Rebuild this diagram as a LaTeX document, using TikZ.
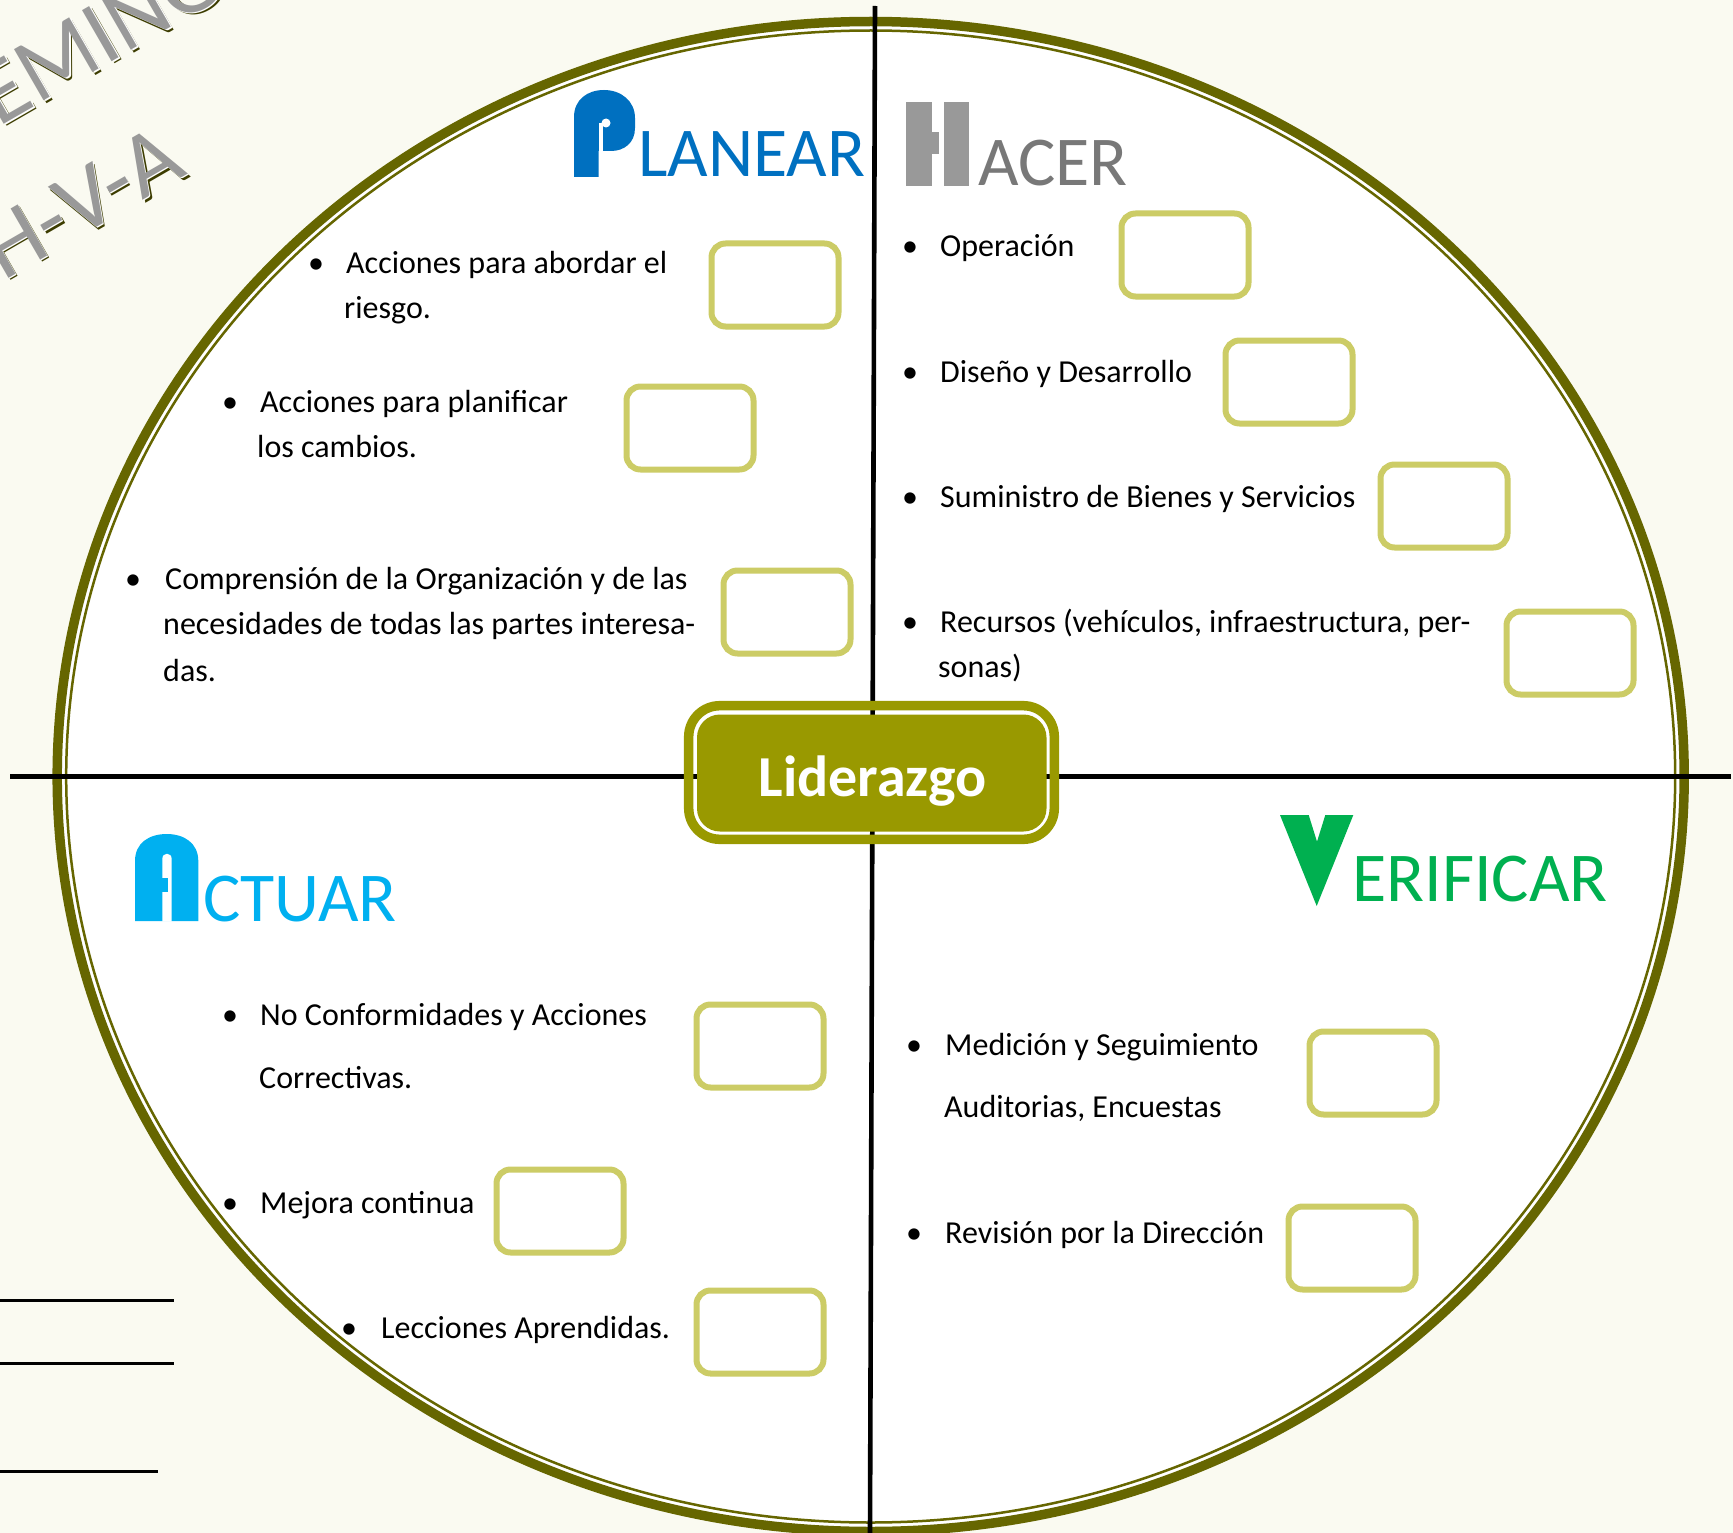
\documentclass[tikz,border=0pt]{standalone}
\usepackage{fontspec}
\setmainfont{Carlito}
\definecolor{bgc}{RGB}{250,250,241}
\definecolor{ringc}{RGB}{102,102,0}
\definecolor{lidc}{RGB}{153,153,0}
\definecolor{chkc}{RGB}{204,204,102}
\definecolor{planc}{RGB}{0,112,192}
\definecolor{hgrey}{RGB}{153,153,153}
\definecolor{acerc}{RGB}{120,120,120}
\definecolor{actc}{RGB}{0,176,240}
\definecolor{verc}{RGB}{0,176,80}
\definecolor{shadc}{RGB}{60,60,0}
\begin{document}
\begin{tikzpicture}[x=1pt,y=-1pt,
  txt/.style={anchor=base west, inner sep=0pt, font=\fontsize{32}{38}\selectfont},
  bul/.style={anchor=base, inner sep=0pt, font=\fontsize{32}{38}\selectfont},
  ttl/.style={anchor=base west, inner sep=0pt, font=\fontsize{70}{80}\selectfont},
  chk/.style={draw=chkc, line width=6pt, rounded corners=14pt, minimum width=127pt, minimum height=83pt, inner sep=0pt},
  wa/.style={inner sep=0pt, rotate=30, font=\fontsize{92}{100}\selectfont},
  axis/.style={draw=black, line width=4.6pt}]
\useasboundingbox (0,0) rectangle (1733,1533);
\fill[bgc] (0,0) rectangle (1733,1533);
% rotated word art
\node[wa, anchor=base west, text=shadc] (wa1s) at (-47.5,158) {DEMING};
\node[wa, anchor=base west, text=white] (wa1w) at (-49,156.5) {DEMING};
\node[wa, anchor=base west, text=hgrey] (wa1) at (-50.3,155.5) {DEMING};
\node[wa, anchor=base east, text=shadc] (wa2s) at (191.5,176.5) {P-H-V-A};
\node[wa, anchor=base east, text=white] (wa2w) at (190,175) {P-H-V-A};
\node[wa, anchor=base east, text=hgrey] (wa2) at (189,174) {P-H-V-A};
% big ellipse
\fill[white] (870.7,776.5) ellipse [x radius=813.5pt, y radius=755pt];
\draw[ringc, line width=9.5pt] (870.7,776.5) ellipse [x radius=813.5pt, y radius=755pt];
\draw[ringc, line width=2.5pt] (870.7,776.5) ellipse [x radius=804.5pt, y radius=746pt];
% axes
\coordinate (vt) at (875,6);
\coordinate (vb) at (870,1533);
\coordinate (hl) at (10,776.5);
\coordinate (hr) at (1731,776.5);
\draw[axis] (vt) -- (vb);
\draw[axis, line width=5pt] (hl) -- (hr);
% bottom-left lines
\draw[line width=3pt] (0,1300) -- (174,1300);
\draw[line width=3pt] (0,1363) -- (174,1363);
\draw[line width=3pt] (0,1471) -- (158,1471);
% Liderazgo box
\draw[lidc, line width=9.5pt, rounded corners=31pt] (688.7,705.7) rectangle (1054.3,839.3);
\fill[lidc, rounded corners=23pt] (697,714.5) rectangle (1046.5,831.5);
\node[anchor=base, inner sep=0pt, text=white, font=\bfseries\fontsize{58}{60}\selectfont] (lid) at (872.5,796) {Liderazgo};
% PLANEAR
\fill[planc] (574,177) -- (574,117) .. controls (574,100) and (587,90) .. (604,90) .. controls (621,90) and (635,101) .. (635,118) -- (635,128) .. controls (635,143) and (624,151) .. (611,151) -- (598.5,151) -- (598.5,177) -- cycle;
\fill[white] (606,123) circle [radius=4.5pt];
\fill[white] (598.5,123) rectangle (602.5,151.5);
\node[ttl, text=planc] (plan) at (638,177) {LANEAR};
% HACER
\fill[hgrey] (906,102) rectangle (931.5,186);
\fill[hgrey] (931.5,132) rectangle (939,154);
\fill[hgrey] (944,102) rectangle (969,186);
\node[ttl, text=acerc] (hac) at (978,186) {ACER};
% ACTUAR
\fill[actc] (135,921) -- (135,861) .. controls (135,843) and (149,834) .. (166.7,834) .. controls (184,834) and (198.3,843) .. (198.3,861) -- (198.3,921) -- cycle;
\fill[white] (162.3,921.5) -- (162.3,859) .. controls (162.3,852) and (171.7,852) .. (171.7,859) -- (171.7,921.5) -- cycle;
\fill[actc] (162,878) rectangle (167.7,892);
\node[ttl, text=actc] (act) at (203,921) {CTUAR};
% VERIFICAR
\fill[verc] (1280,815) -- (1308.7,815) -- (1317,841.7) -- (1325.3,815) -- (1353.3,815) -- (1316.7,906) -- cycle;
\node[ttl, text=verc] (ver) at (1352,901) {ERIFICAR};
% PLANEAR items
\node[bul] (pb1) at (316,274) {•};
\node[txt] (p1a) at (346,274) {Acciones para abordar el};
\node[txt] (p1b) at (344,319) {riesgo.};
\node[bul] (pb2) at (230,412) {•};
\node[txt] (p2a) at (260,412) {Acciones para planificar};
\node[txt] (p2b) at (257,457) {los cambios.};
\node[bul] (pb3) at (133,589) {•};
\node[txt] (p3a) at (165,589) {Comprensión de la Organización y de las};
\node[txt] (p3b) at (163,634) {necesidades de todas las partes interesa-};
\node[txt] (p3c) at (163,681) {das.};
% HACER items
\node[bul] (hb1) at (910,257) {•};
\node[txt] (h1) at (940,257) {Operación};
\node[bul] (hb2) at (910,382) {•};
\node[txt] (h2) at (940,382) {Diseño y Desarrollo};
\node[bul] (hb3) at (910,507) {•};
\node[txt] (h3) at (940,507) {Suministro de Bienes y Servicios};
\node[bul] (hb4) at (910,632) {•};
\node[txt] (h4a) at (940,632) {Recursos (vehículos, infraestructura, per-};
\node[txt] (h4b) at (938,677) {sonas)};
% ACTUAR items
\node[bul] (ab1) at (230,1025) {•};
\node[txt] (a1a) at (260,1025) {No Conformidades y Acciones};
\node[txt] (a1b) at (259,1088) {Correctivas.};
\node[bul] (ab2) at (230,1213) {•};
\node[txt] (a2) at (260,1213) {Mejora continua};
\node[bul] (ab3) at (349,1338) {•};
\node[txt] (a3) at (381,1338) {Lecciones Aprendidas.};
% VERIFICAR items
\node[bul] (vb1) at (914,1055) {•};
\node[txt] (v1a) at (945,1055) {Medición y Seguimiento};
\node[txt] (v1b) at (944,1117) {Auditorias, Encuestas};
\node[bul] (vb2) at (914,1243) {•};
\node[txt] (v2) at (945,1243) {Revisión por la Dirección};
% check boxes
\node[chk] (c1) at (775,285) {};
\node[chk] (c2) at (690,428) {};
\node[chk] (c3) at (787,612) {};
\node[chk] (c4) at (1185,255) {};
\node[chk] (c5) at (1289,382) {};
\node[chk] (c6) at (1444,506) {};
\node[chk] (c7) at (1570,653) {};
\node[chk] (c8) at (760,1046) {};
\node[chk] (c9) at (560,1211) {};
\node[chk] (c10) at (760,1332) {};
\node[chk] (c11) at (1373,1073) {};
\node[chk] (c12) at (1352,1248) {};
\end{tikzpicture}
\end{document}
